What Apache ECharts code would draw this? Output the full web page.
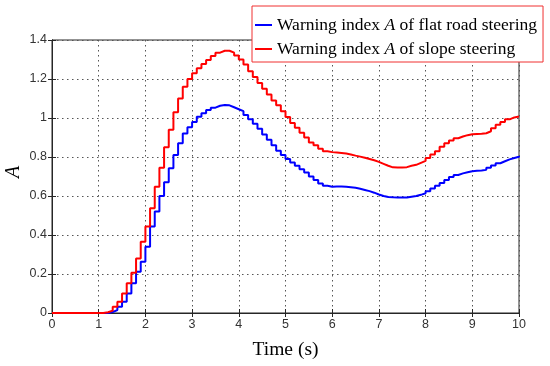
<!DOCTYPE html>
<html>
<head>
<meta charset="utf-8">
<script src="https://cdn.jsdelivr.net/npm/echarts@6/dist/echarts.min.js"></script>
<style>html,body{margin:0;padding:0;background:#fff;}#c{width:550px;height:366px;}</style>
</head>
<body>
<div id="c"></div>
<script>
var seriesNames = ['flat', 'slope'];
var legendLabels = {
  flat: ['Warning index ', 'A', ' of flat road steering'],
  slope: ['Warning index ', 'A', ' of slope steering']
};
var xTicks = [0,1,2,3,4,5,6,7,8,9,10];
var yTicks = [0,0.2,0.4,0.6,0.8,1,1.2,1.4];
var time = [0,0.1,0.2,0.3,0.4,0.5,0.6,0.7,0.8,0.9,
  1,1.1,1.2,1.3,1.4,1.5,1.6,1.7,1.8,1.9,
  2,2.1,2.2,2.3,2.4,2.5,2.6,2.7,2.8,2.9,
  3,3.1,3.2,3.3,3.4,3.5,3.6,3.7,3.8,3.9,
  4,4.1,4.2,4.3,4.4,4.5,4.6,4.7,4.8,4.9,
  5,5.1,5.2,5.3,5.4,5.5,5.6,5.7,5.8,5.9,
  6,6.1,6.2,6.3,6.4,6.5,6.6,6.7,6.8,6.9,
  7,7.1,7.2,7.3,7.4,7.5,7.6,7.7,7.8,7.9,
  8,8.1,8.2,8.3,8.4,8.5,8.6,8.7,8.8,8.9,
  9,9.1,9.2,9.3,9.4,9.5,9.6,9.7,9.8,9.9,10];
var flatA = [0,0,0,0,0,0,0,0,0,0,0,0,
  0.005,0.015,0.032,0.058,0.10,0.152,0.212,0.263,0.34,
  0.443,0.52,0.60,0.67,0.742,0.81,0.87,0.92,0.952,0.98,
  1.007,1.024,1.041,1.053,1.063,1.067,1.065,1.055,
  1.045,1.035,1.015,0.993,0.97,0.945,0.915,0.888,0.86,0.832,
  0.81,0.79,0.772,0.755,0.737,0.72,0.7,0.682,0.664,0.652,
  0.648,0.649,0.649,0.648,0.645,0.642,0.637,0.631,0.625,0.617,
  0.608,0.6,0.595,0.593,0.592,0.592,0.592,0.596,0.6,0.606,
  0.614,0.625,0.638,0.652,0.667,0.682,0.697,0.708,0.716,0.722,
  0.727,0.729,0.731,0.734,0.745,0.757,0.768,0.778,0.788,0.795,
  0.801,0.805];
var slopeA = [0,0,0,0,0,0,0,0,0,0,0,
  0.004,0.012,0.032,0.058,0.10,0.152,0.207,0.28,0.366,0.443,
  0.537,0.648,0.745,0.85,0.94,1.03,1.10,1.16,1.20,1.23,
  1.255,1.277,1.297,1.318,1.335,1.345,1.345,1.335,
  1.32,1.30,1.275,1.24,1.21,1.18,1.15,1.12,1.09,1.065,
  1.035,1.005,0.975,0.95,0.925,0.9,0.875,0.86,0.842,0.83,
  0.825,0.823,0.821,0.818,0.813,0.807,0.802,0.796,0.79,0.783,
  0.775,0.765,0.755,0.747,0.746,0.746,0.748,0.755,0.76,0.77,
  0.78,0.795,0.813,0.83,0.852,0.87,0.885,0.896,0.905,0.912,
  0.917,0.918,0.919,0.922,0.932,0.948,0.965,0.98,0.993,1.003,
  1.008,1.01];

function pairs(vals){ return time.map(function(t,i){ return [t, vals[i]]; }); }

var chart = echarts.init(document.getElementById('c'), null, {renderer:'canvas'});
var tickFont = {fontFamily:'Liberation Sans, Arial, sans-serif', fontSize:12.5, color:'#333'};
var splitStyle = {show:true, lineStyle:{color:'#555', width:1, type:[1.5,3.5]}};
var axLine = {show:true, lineStyle:{color:'#262626', width:1}};
var tick = {show:true, inside:true, length:4, lineStyle:{color:'#262626'}};

var option = {
  backgroundColor:'#fff',
  animation:false,
  grid:{left:52, top:40, right:31, bottom:53, containLabel:false, outerBoundsMode:'none',
        show:true, borderColor:'#262626', borderWidth:1, backgroundColor:'transparent'},
  legend:{
    orient:'vertical', left:252, top:6,
    padding:[9,6,3,3],
    backgroundColor:'#fff', borderColor:'#f03030', borderWidth:1,
    itemWidth:17, itemHeight:2, itemGap:4, icon:'rect',
    data:seriesNames,
    formatter:function(n){ var p = legendLabels[n]; return '{n|'+p[0]+'}{i|'+p[1]+'}{n|'+p[2]+'}'; },
    textStyle:{
      fontFamily:'Liberation Serif, Times New Roman, serif', fontSize:17.5, color:'#000', lineHeight:20,
      rich:{
        n:{fontFamily:'Liberation Serif, Times New Roman, serif', fontSize:17.5, color:'#000', lineHeight:20},
        i:{fontFamily:'Liberation Serif, Times New Roman, serif', fontSize:17.5, fontStyle:'italic', color:'#000', lineHeight:20}
      }
    }
  },
  xAxis:[{
    type:'value', min:xTicks[0], max:xTicks[xTicks.length-1], interval:1,
    position:'bottom',
    name:'Time (s)', nameLocation:'middle', nameGap:27, nameMoveOverlap:false,
    nameTextStyle:{fontFamily:'Liberation Serif, Times New Roman, serif', fontSize:19.5, color:'#000'},
    axisLine:axLine, axisTick:tick,
    axisLabel:Object.assign({margin:5}, tickFont),
    splitLine:splitStyle
  },{
    type:'value', min:xTicks[0], max:xTicks[xTicks.length-1], interval:1,
    position:'top', axisLine:axLine, axisTick:tick, axisLabel:{show:false}, splitLine:{show:false}
  }],
  yAxis:[{
    type:'value', min:yTicks[0], max:yTicks[yTicks.length-1], interval:0.2,
    position:'left',
    name:'A', nameLocation:'middle', nameGap:28, nameRotate:90, nameMoveOverlap:false,
    nameTextStyle:{fontFamily:'Liberation Serif, Times New Roman, serif', fontSize:20, fontStyle:'italic', color:'#000', padding:[0,0,0,9]},
    axisLine:axLine, axisTick:tick,
    axisLabel:Object.assign({margin:5}, tickFont),
    splitLine:splitStyle
  },{
    type:'value', min:yTicks[0], max:yTicks[yTicks.length-1], interval:0.2,
    position:'right', axisLine:axLine, axisTick:tick, axisLabel:{show:false}, splitLine:{show:false}
  }],
  series:[{
    name:seriesNames[0], type:'line', step:'end', showSymbol:false, symbol:'none',
    xAxisIndex:0, yAxisIndex:0,
    lineStyle:{color:'#0000ff', width:2}, itemStyle:{color:'#0000ff'},
    data:pairs(flatA)
  },{
    name:seriesNames[1], type:'line', step:'end', showSymbol:false, symbol:'none',
    xAxisIndex:0, yAxisIndex:0,
    lineStyle:{color:'#ff0000', width:2}, itemStyle:{color:'#ff0000'},
    data:pairs(slopeA)
  }]
};
chart.setOption(option);
</script>
</body>
</html>
